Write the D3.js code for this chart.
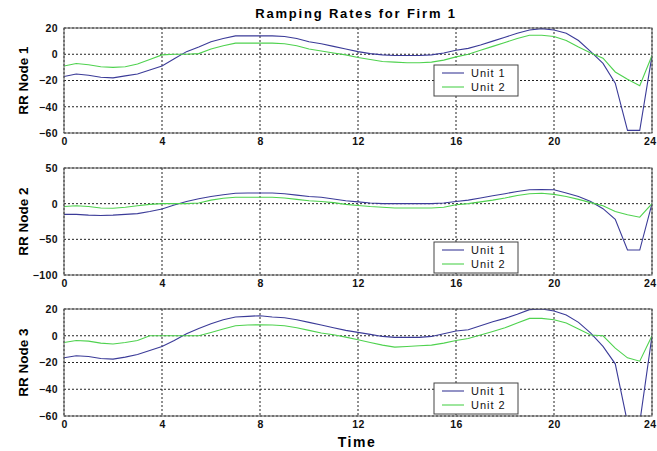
<!DOCTYPE html>
<html>
<head>
<meta charset="utf-8">
<script src="https://cdn.jsdelivr.net/npm/d3@7"></script>
<style>
  html, body { margin: 0; padding: 0; background: #fff; }
  svg { display: block; font-family: "Liberation Sans", Arial, sans-serif; }
  .tick text { font-weight: bold; font-size: 10.5px; fill: #111; }
</style>
</head>
<body>
<svg id="chart" width="657" height="451"></svg>
<script>
// Hours of the day, sampled every half hour
const hours = [0, 0.5, 1, 1.5, 2, 2.5, 3, 3.5, 4, 4.5, 5, 5.5, 6, 6.5, 7, 7.5, 8, 8.5,
  9, 9.5, 10, 10.5, 11, 11.5, 12, 12.5, 13, 13.5, 14, 14.5, 15, 15.5, 16, 16.5, 17, 17.5,
  18, 18.5, 19, 19.5, 20, 20.5, 21, 21.5, 22, 22.5, 23, 23.5, 24];

// Ramping rates at node 1
const node1Unit1 = [-17, -15, -16, -17.5, -18, -16.5, -15, -12, -9, -3.5, 2, 5.5, 9.5, 12, 14, 14, 14, 14,
  13.5, 12, 9.5, 8, 6, 4, 2, 0.5, -0.5, -1, -1, -1, -0.5, 1, 3, 4.5, 7, 10,
  13, 16, 18.5, 19.5, 18.5, 16, 10.5, 2, -7, -22, -58, -58, -1];
const node1Unit2 = [-9, -7, -8, -9.5, -10, -9.5, -7.5, -4, -0.5, 0, 0, 0.5, 4, 6.5, 8.5, 8.5, 8.5, 8.5,
  8, 6.5, 4, 2.5, 1, -0.5, -2.5, -4, -5.5, -6, -6.5, -6.5, -6, -4.5, -2, 0, 3, 6,
  9, 12, 14.5, 14.5, 13.5, 10.5, 5.5, 1, -3, -13.5, -19, -24, -1];

// Ramping rates at node 2
const node2Unit1 = [-15, -15, -16, -16.5, -16, -15, -14, -11, -7.5, -2, 3, 7, 10, 12.5, 14.5, 15, 15, 15,
  14, 12, 10, 9, 6.5, 4, 2.5, 1, 0, 0, 0, 0, 0, 1, 3, 5, 8, 11,
  14, 17, 19.5, 19.7, 19.5, 15, 10, 3, -7, -22, -65, -65, 0];
const node2Unit2 = [-4, -3, -4, -6, -6.5, -5, -3, -1, 0, 0, 0, 1, 5, 7.5, 9, 9, 9, 9,
  8, 6, 4, 3, 1.5, -1, -2.5, -4, -5, -6, -6, -6, -6, -5, -1.5, 0, 2.5, 5,
  8, 11.5, 14, 14.5, 13, 10, 6, 1.5, -3, -11, -15.5, -19, 0];

// Ramping rates at node 3
const node3Unit1 = [-16.5, -15, -15.5, -17, -17.5, -16, -14, -11, -8, -3.5, 1.5, 5.5, 9, 12, 14, 14.5, 15, 14,
  13.5, 12, 10, 8, 6, 4, 2.5, 1, -0.5, -1.2, -1.2, -1.2, -0.5, 1.5, 3.5, 4.5, 7.5, 10.5,
  13, 16, 19.5, 20, 18.5, 15.5, 10, 2, -8, -21, -65, -65, 0];
const node3Unit2 = [-5, -3.5, -4, -5.5, -6.2, -5, -3.5, 0, 0, 0, 0, 0, 2.5, 5, 7.5, 8, 8.2, 8,
  7.5, 6, 4, 2, 0.7, -1, -3, -5, -7, -8.5, -8, -7.5, -7, -5.5, -3.5, -2, 0.5, 3.2,
  6, 9.5, 13, 13, 12, 9.5, 5, 0.5, 0, -9.3, -16.5, -19, 0];

// Axis ticks
const xTicks = [0, 4, 8, 12, 16, 20, 24];
const yTicksNarrow = [-60, -40, -20, 0, 20];
const yTicksWide = [-100, -50, 0, 50];

const seriesNames = ["Unit 1", "Unit 2"];
const seriesColors = ["#3b3b98", "#4fd24f"];

const panels = [
  { label: "RR Node 1", top: 28, bottom: 133, domain: [-60, 20], ticks: yTicksNarrow,
    series: [node1Unit1, node1Unit2], legendTop: 65 },
  { label: "RR Node 2", top: 168, bottom: 275, domain: [-100, 50], ticks: yTicksWide,
    series: [node2Unit1, node2Unit2], legendTop: 242 },
  { label: "RR Node 3", top: 309, bottom: 416, domain: [-60, 20], ticks: yTicksNarrow,
    series: [node3Unit1, node3Unit2], legendTop: 383 }
];

const left = 64, right = 652;
const svg = d3.select("#chart");

const x = d3.scaleLinear().domain([0, 24]).range([left, right]);

panels.forEach((p, i) => {
  const y = d3.scaleLinear().domain(p.domain).range([p.bottom, p.top]);
  const g = svg.append("g");

  // clip region for the data lines
  const clipId = "clip" + i;
  svg.append("clipPath").attr("id", clipId)
    .append("rect").attr("x", left).attr("y", p.top)
    .attr("width", right - left).attr("height", p.bottom - p.top);

  // dotted grid
  g.append("g").selectAll("line").data(xTicks).join("line")
    .attr("x1", d => x(d)).attr("x2", d => x(d))
    .attr("y1", p.top).attr("y2", p.bottom)
    .attr("stroke", "#222").attr("stroke-width", 1).attr("stroke-dasharray", "2,2");
  g.append("g").selectAll("line").data(p.ticks).join("line")
    .attr("x1", left).attr("x2", right)
    .attr("y1", d => y(d)).attr("y2", d => y(d))
    .attr("stroke", "#222").attr("stroke-width", 1).attr("stroke-dasharray", "2,2");

  // data lines
  const line = d3.line().x((d, k) => x(hours[k])).y(d => y(d));
  g.append("g").attr("clip-path", `url(#${clipId})`)
    .selectAll("path").data(p.series).join("path")
    .attr("d", d => line(d))
    .attr("fill", "none")
    .attr("stroke", (d, k) => seriesColors[k])
    .attr("stroke-width", 1.1);

  // frame
  g.append("rect").attr("x", left).attr("y", p.top)
    .attr("width", right - left).attr("height", p.bottom - p.top)
    .attr("fill", "none").attr("stroke", "#555").attr("stroke-width", 1);

  // axes
  const ya = g.append("g").attr("transform", `translate(${left},0)`)
    .call(d3.axisLeft(y).tickValues(p.ticks).tickSize(0).tickPadding(6));
  ya.select(".domain").remove();
  ya.selectAll("text").attr("letter-spacing", "0.4px");

  const xa = g.append("g").attr("transform", `translate(0,${p.bottom})`)
    .call(d3.axisBottom(x).tickValues(xTicks).tickSize(0).tickPadding(5));
  xa.select(".domain").remove();
  xa.selectAll("text").attr("letter-spacing", "0.4px");
  // keep the last hour label inside the page edge
  xa.selectAll(".tick").filter(d => d === 24).select("text")
    .attr("text-anchor", "end").attr("dx", "4px");

  // y label
  g.append("text")
    .attr("transform", `translate(28,${(p.top + p.bottom) / 2}) rotate(-90)`)
    .attr("text-anchor", "middle")
    .attr("font-size", "13.5px").attr("font-weight", "bold")
    .text(p.label);

  // legend
  const lx = 434, lw = 84, lh = 31;
  const lg = g.append("g").attr("transform", `translate(${lx},${p.legendTop})`);
  lg.append("rect").attr("width", lw).attr("height", lh)
    .attr("fill", "#fff").attr("stroke", "#444").attr("stroke-width", 1);
  seriesNames.forEach((name, k) => {
    const ry = 8 + k * 14;
    lg.append("line").attr("x1", 8).attr("x2", 30).attr("y1", ry).attr("y2", ry)
      .attr("stroke", seriesColors[k]).attr("stroke-width", 1.1);
    lg.append("text").attr("x", 37).attr("y", ry + 4)
      .attr("font-size", "11px").attr("letter-spacing", "1px").attr("fill", "#111")
      .text(name);
  });
});

// title and x label
svg.append("text").attr("x", 356).attr("y", 18)
  .attr("text-anchor", "middle").attr("font-size", "13px").attr("font-weight", "bold")
  .attr("letter-spacing", "1.8px").text("Ramping Rates for Firm 1");

svg.append("text").attr("x", 357).attr("y", 447)
  .attr("text-anchor", "middle").attr("font-size", "14px").attr("font-weight", "bold")
  .attr("letter-spacing", "1.5px").text("Time");
</script>
</body>
</html>
